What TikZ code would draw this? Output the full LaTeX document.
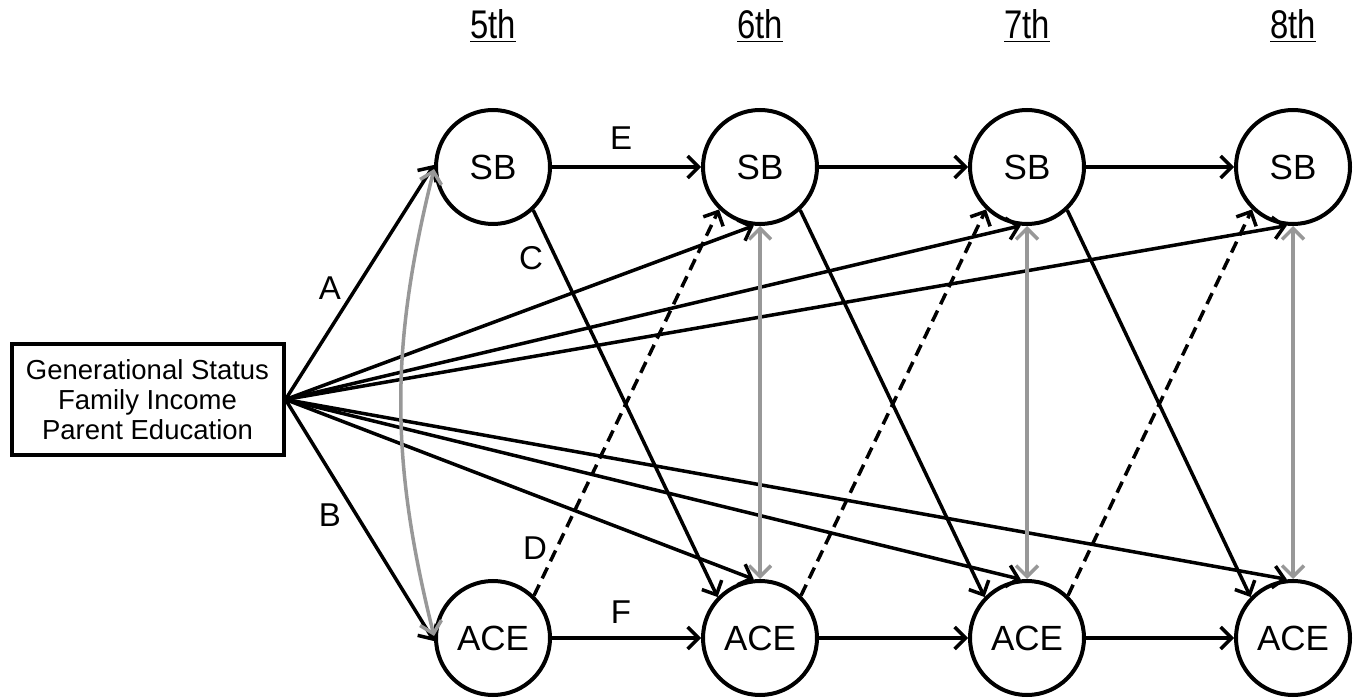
\documentclass[tikz,border=0pt]{standalone}
\usepackage{fontspec}
\setmainfont{Liberation Sans}
\usetikzlibrary{arrows.meta}
\definecolor{corr}{RGB}{152,152,152}
\begin{document}
\begin{tikzpicture}[x=1pt,y=-1pt,
  var/.style={circle,draw,line width=4pt,minimum size=114pt,inner sep=0pt,
    font=\fontsize{35}{38}\selectfont},
  covbox/.style={draw,line width=4pt,minimum width=272pt,minimum height=110pt,
    align=center,inner sep=0pt,font=\fontsize{27.5}{30}\selectfont},
  hdr/.style={anchor=base,font=\fontsize{40}{42}\selectfont},
  lbl/.style={font=\fontsize{33}{35}\selectfont,inner sep=0pt},
  barb/.style={Straight Barb[length=11pt,width=22pt,line width=3.5pt]},
  link/.style={line width=3.5pt,-{Straight Barb[length=11pt,width=22pt,line width=3.5pt]}},
  cross/.style={link,dash pattern=on 12pt off 7pt},
  cov/.style={line width=3.5pt,draw=corr,
    {Straight Barb[length=11pt,width=22pt,line width=3.5pt]}-{Straight Barb[length=11pt,width=22pt,line width=3.5pt]}},
]
\useasboundingbox (0,0) rectangle (1360,700);

% time-point headers
\foreach \g/\x in {5/493,6/760,7/1027,8/1293}
  \node[hdr] (h\g) at (\x,39) {\scalebox{0.82}[1]{\underline{\g th}}};

% background covariates
\node[covbox] (demo) at (147.5,399.5) {Generational Status\\Family Income\\Parent Education};

% latent variables per grade
\foreach \g/\x in {5/493,6/760,7/1027,8/1293}{
  \node[var] (sb\g) at (\x,167) {SB};
  \node[var] (ace\g) at (\x,638) {ACE};
}

% covariate paths
\draw[link] (demo.east) -- (sb5.178);
\draw[link] (demo.east) -- (ace5.183);
\foreach \g in {6,7,8}{
  \draw[link] (demo.east) -- (sb\g.-96);
  \draw[link] (demo.east) -- (ace\g.96);
}

% stability and cross-lagged paths
\foreach \a/\b in {5/6,6/7,7/8}{
  \draw[link] (sb\a.east) -- (sb\b.west);
  \draw[link] (ace\a.east) -- (ace\b.west);
  \draw[link] (sb\a.-47) -- (ace\b.136);
  \draw[cross] (ace\a.46) -- (sb\b.226);
}

% within-time covariances
\draw[cov] (sb5.182) to[bend right=14] (ace5.178);
\foreach \g in {6,7,8}
  \draw[cov] (sb\g.south) -- (ace\g.north);

% path labels
\node[lbl] (la) at (330,288) {A};
\node[lbl] (lb) at (330,515) {B};
\node[lbl] (lc) at (531,258) {C};
\node[lbl] (ld) at (535,548) {D};
\node[lbl] (le) at (621,138) {E};
\node[lbl] (lf) at (621,612) {F};
\end{tikzpicture}
\end{document}
